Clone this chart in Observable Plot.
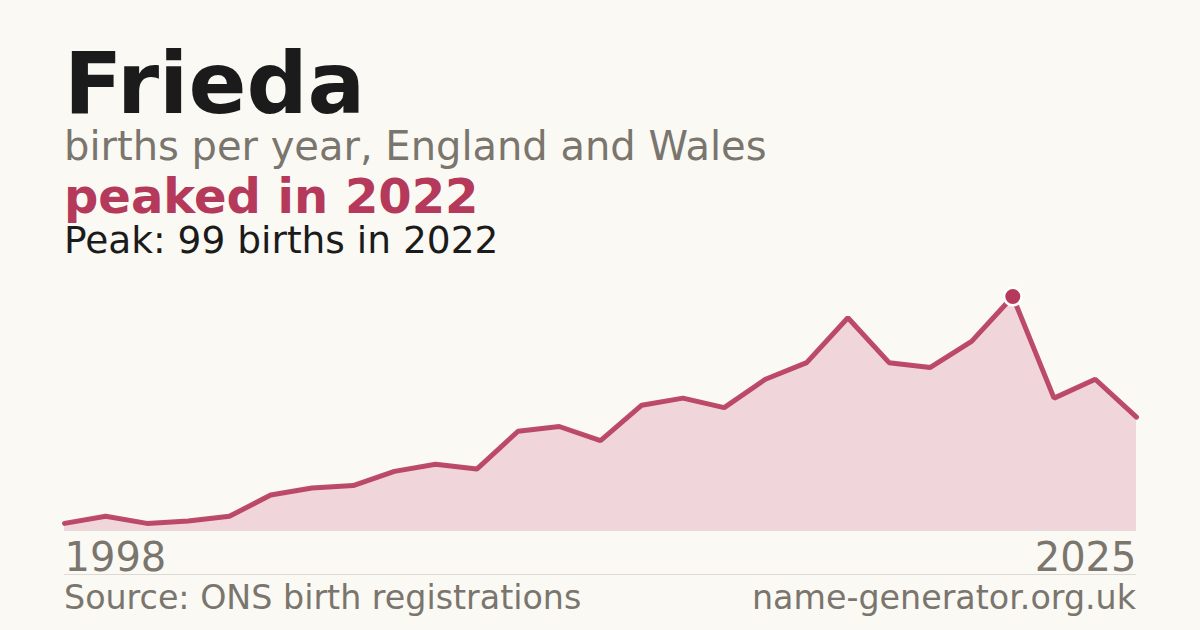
<!DOCTYPE html>
<html>
<head>
<meta charset="utf-8">
<script src="https://cdn.jsdelivr.net/npm/d3@7"></script>
<script src="https://cdn.jsdelivr.net/npm/@observablehq/plot@0.6"></script>
<style>
  html, body { margin: 0; padding: 0; }
  body { width: 1200px; height: 630px; background: #faf9f4; font-family: "DejaVu Sans", sans-serif; position: relative; overflow: hidden; }
  .t { position: absolute; left: 64px; line-height: 0.8; white-space: nowrap; }
  #title { top: 49.5px; font-size: 85.5px; font-weight: bold; color: #1b1b1b; }
  #sub { top: 130.2px; font-size: 40px; color: #7a756d; }
  #headline { top: 177.4px; font-size: 48px; font-weight: bold; color: #b5395a; }
  #peak { top: 225.4px; font-size: 37.5px; color: #1b1b1b; }
  #chart { position: absolute; left: 0; top: 270px; width: 1200px; }
  #chart svg { display: block; }
  #sep { position: absolute; left: 64px; width: 1072px; top: 574px; height: 1px; background: #dedad3; }
  #source { top: 585.2px; font-size: 33.3px; color: #7a756d; }
  #site { position: absolute; right: 64px; top: 585.2px; font-size: 33.3px; line-height: 0.8; color: #7a756d; white-space: nowrap; }
</style>
</head>
<body>
<div class="t" id="title">Frieda</div>
<div class="t" id="sub">births per year, England and Wales</div>
<div class="t" id="headline">peaked in 2022</div>
<div class="t" id="peak">Peak: 99 births in 2022</div>
<div id="chart"></div>
<div id="sep"></div>
<div class="t" id="source">Source: ONS birth registrations</div>
<div id="site">name-generator.org.uk</div>
<script>
const years = [1998, 2000, 2001, 2002, 2003, 2004, 2005, 2006, 2007, 2008, 2009, 2010, 2011, 2012, 2013, 2014, 2015, 2016, 2017, 2018, 2019, 2020, 2021, 2022, 2023, 2024, 2025];
const births = [3, 6, 3, 4, 6, 15, 18, 19, 25, 28, 26, 42, 44, 38, 53, 56, 52, 64, 71, 90, 71, 69, 80, 99, 56, 64, 48];
const tickFirst = [1998];
const tickLast = [2025];
const peakYear = 2022;

const data = years.map((year, i) => ({year, births: births[i]}));
const peak = data.filter(d => d.year === peakYear);

const red = "#b5395a";
const chart = Plot.plot({
  width: 1200,
  height: 310,
  marginLeft: 64,
  marginRight: 64,
  marginTop: 26,
  marginBottom: 50,
  style: {background: "transparent", fontFamily: "DejaVu Sans, sans-serif", overflow: "visible"},
  x: {type: "point", domain: years, padding: 0, round: false, label: null},
  y: {domain: [0, 99], axis: null},
  marks: [
    Plot.areaY(data, {x: "year", y: "births", fill: "#f0d5da"}),
    Plot.ruleY([0], {stroke: "#e2ddd6", strokeWidth: 1}),
    Plot.lineY(data, {x: "year", y: "births", stroke: red, strokeWidth: 5, strokeOpacity: 0.9, strokeLinejoin: "miter"}),
    Plot.dot(peak, {x: "year", y: "births", r: 8.8, fill: red, stroke: "white", strokeWidth: 2.6}),
    Plot.axisX(tickFirst, {tickSize: 0, tickPadding: 12, fontSize: 40, textAnchor: "start", color: "#7a756d", tickFormat: d => String(d), label: null}),
    Plot.axisX(tickLast, {tickSize: 0, tickPadding: 12, fontSize: 40, textAnchor: "end", color: "#7a756d", tickFormat: d => String(d), label: null})
  ]
});
document.getElementById("chart").appendChild(chart);
</script>
</body>
</html>
